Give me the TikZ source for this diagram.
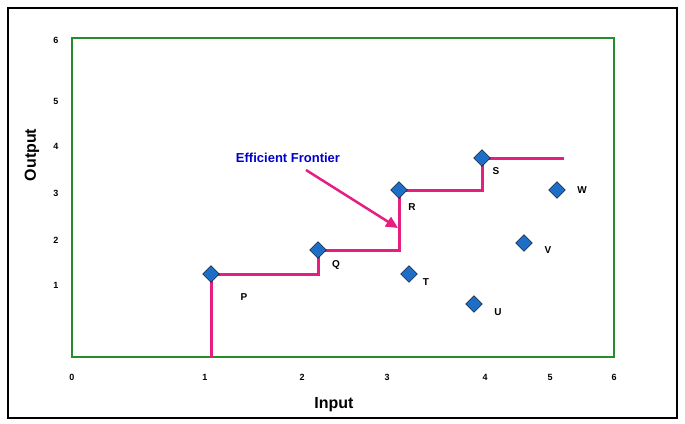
\documentclass[tikz,border=0pt]{standalone}
\usepackage{fontspec}
\setmainfont{Liberation Sans}
\usetikzlibrary{shapes.geometric, arrows.meta, positioning}
\definecolor{frontpink}{RGB}{230,30,130}
\definecolor{dotblue}{RGB}{30,110,200}
\definecolor{boxgreen}{RGB}{40,140,40}

\begin{document}
\begin{tikzpicture}[
    x=1pt, y=-1pt,
    firm/.style={diamond, draw=black, fill=dotblue, inner sep=0pt, minimum size=17pt},
    firmlabel/.style={font=\bfseries\fontsize{10}{12}\selectfont},
    tick/.style={font=\bfseries\fontsize{9}{10}\selectfont},
    frontier/.style={draw=frontpink, line width=3pt},
    axistitle/.style={font=\bfseries\fontsize{16}{18}\selectfont}
]
\useasboundingbox (0,0) rectangle (685,423);
\draw[black, line width=1.5pt] (8,8) rectangle (677,418);
\draw[boxgreen, line width=1.5pt] (72,38) rectangle (614,357);

% Axis ticks
\foreach \lab/\px in {0/72, 1/205, 2/302, 3/387, 4/485, 5/550, 6/614}
  \node[tick] (x\lab) at (\px,377) {\lab};
\foreach \lab/\py in {6/40, 5/101, 4/146, 3/193, 2/240, 1/285}
  \node[tick] (y\lab) at (56,\py) {\lab};

% Axis titles
\node[axistitle, rotate=90] (ytitle) at (32,155) {Output};
\node[axistitle] (xtitle) at (334,405) {Input};

% Frontier
\coordinate (base) at (211,357);
\coordinate (tail) at (564,158);
\draw[frontier] (base) -- (211,274) -- (318,274) -- (318,250) -- (399,250)
  -- (399,190) -- (482,190) -- (482,158) -- (tail);

% Firms
\node[firm] (P) at (211,274) {};
\node[firm] (Q) at (318,250) {};
\node[firm] (R) at (399,190) {};
\node[firm] (S) at (482,158) {};
\node[firm] (T) at (409,274) {};
\node[firm] (U) at (474,304) {};
\node[firm] (V) at (524,243) {};
\node[firm] (W) at (557,190) {};

\node[firmlabel] at (244,297) {P};
\node[firmlabel] at (336,265) {Q};
\node[firmlabel] at (412,207) {R};
\node[firmlabel] at (496,171) {S};
\node[firmlabel] at (426,282) {T};
\node[firmlabel] at (498,312) {U};
\node[firmlabel] at (548,250) {V};
\node[firmlabel] at (582,190) {W};

% Label and pointer
\node[font=\bfseries\fontsize{13}{15}\selectfont, text=blue!80!black] (eff) at (288,158) {Efficient Frontier};
\coordinate (tip) at (398,228);
\draw[frontpink, line width=2.5pt, -{Triangle[length=12pt,width=11pt]}] (306,170) -- (tip);
\end{tikzpicture}
\end{document}
